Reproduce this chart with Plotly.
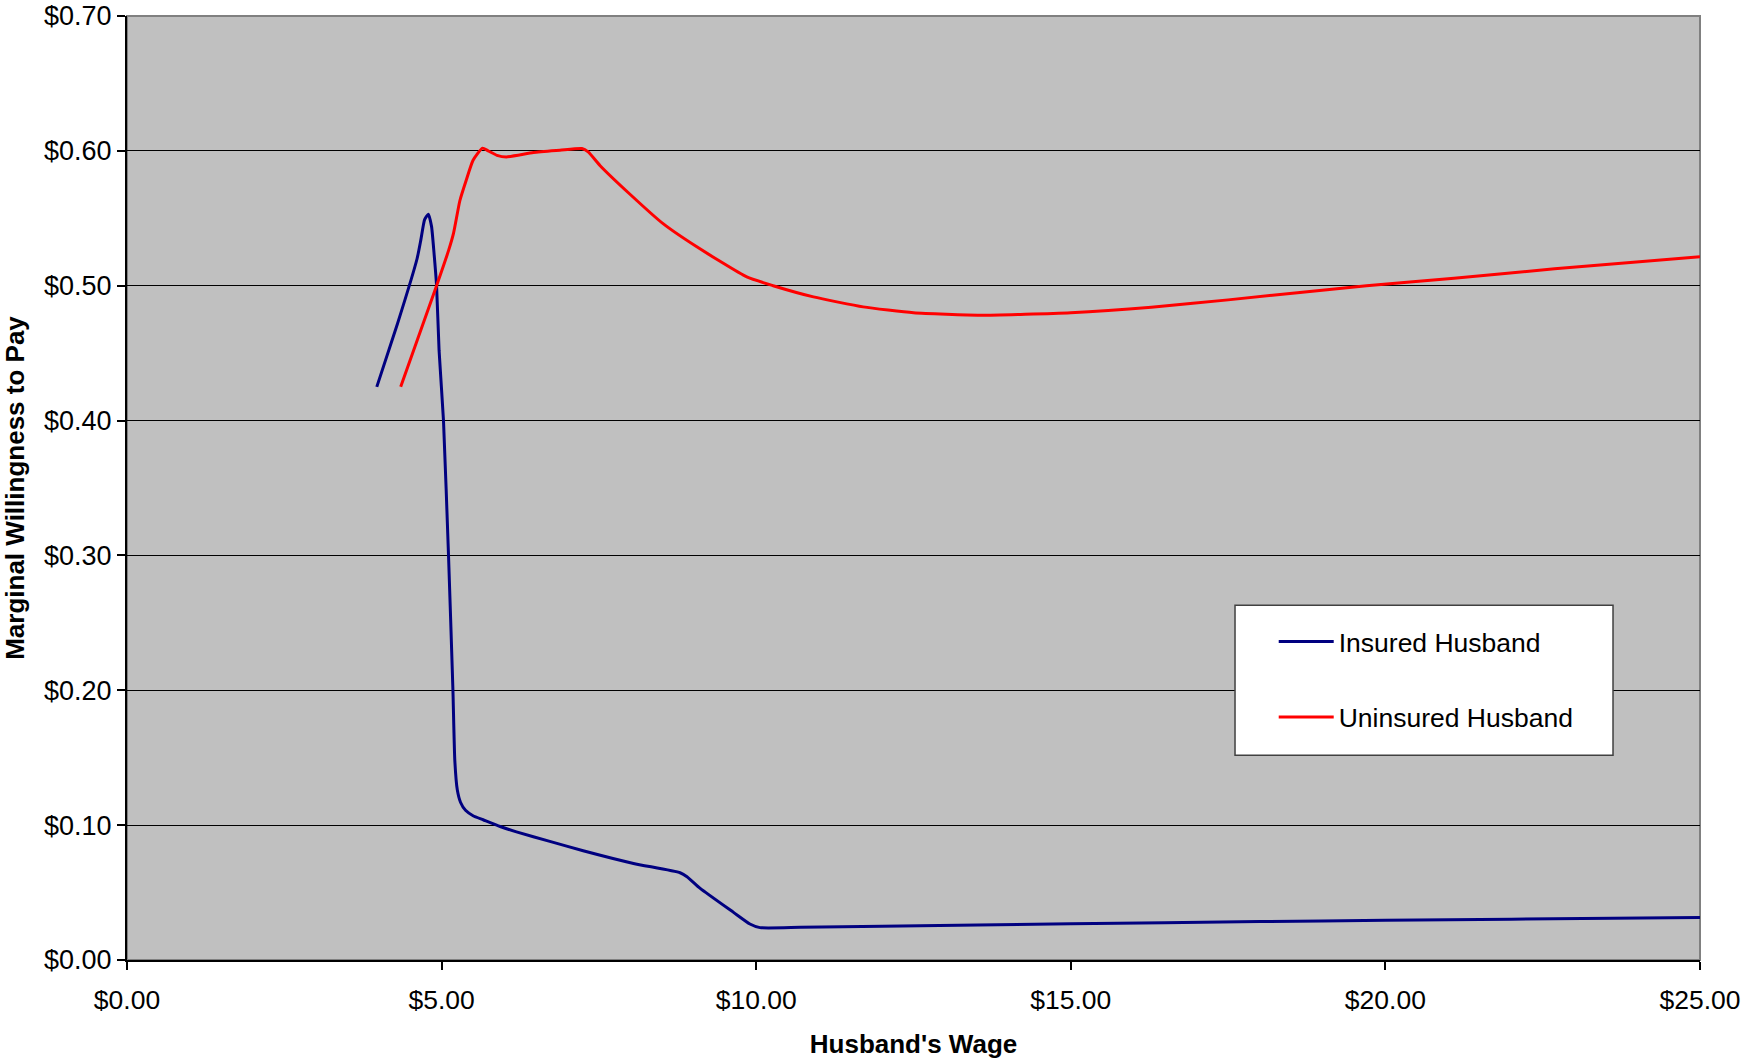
import plotly.graph_objects as go

# Husband's hourly wage ($) and marginal willingness to pay ($)
wage_insured = [3.97, 4.30, 4.61, 4.67, 4.73, 4.79, 4.84, 4.88, 4.92, 4.96, 5.03,
                5.11, 5.18, 5.21, 5.25, 5.30, 5.38, 5.50, 5.66, 5.93, 6.19, 6.72,
                7.25, 8.05, 8.79, 8.90, 9.11, 9.64, 9.90, 10.06, 10.70, 12.0,
                15.0, 18.0, 20.0, 22.0, 25.0]
mwtp_insured = [0.425, 0.472, 0.520, 0.534, 0.549, 0.553, 0.544, 0.524, 0.500,
                0.452, 0.400, 0.300, 0.200, 0.148, 0.126, 0.117, 0.111, 0.107,
                0.104, 0.099, 0.095, 0.088, 0.081, 0.0716, 0.0647, 0.0618,
                0.0531, 0.0353, 0.0267, 0.0240, 0.0242, 0.0250, 0.0268, 0.0285,
                0.0295, 0.0303, 0.0316]

wage_uninsured = [4.35, 4.92, 5.11, 5.19, 5.29, 5.39, 5.50, 5.65, 5.74, 5.88,
                  6.03, 6.46, 6.88, 7.23, 7.33, 7.52, 7.99, 8.52, 9.05, 9.85,
                  10.27, 10.91, 11.70, 12.50, 13.56, 15.0, 16.28, 17.5, 19.7,
                  21.09, 22.69, 25.0]
mwtp_uninsured = [0.425, 0.500, 0.526, 0.539, 0.563, 0.578, 0.593, 0.602, 0.600,
                  0.5967, 0.5955, 0.5987, 0.6004, 0.6017, 0.5992, 0.589, 0.568,
                  0.546, 0.529, 0.5065, 0.500, 0.4917, 0.4843, 0.4799, 0.4781,
                  0.4800, 0.4840, 0.4895, 0.5000, 0.5055, 0.5125, 0.5215]

x_ticks = [0, 5, 10, 15, 20, 25]
y_ticks = [0, 0.1, 0.2, 0.3, 0.4, 0.5, 0.6, 0.7]

FONT = "Liberation Sans, Arial, sans-serif"

fig = go.Figure()
fig.add_trace(go.Scatter(
    x=wage_insured, y=mwtp_insured, mode="lines", name="Insured Husband",
    legendgroup="a",
    line=dict(color="#000080", width=3, shape="spline", smoothing=0.5),
))
fig.add_trace(go.Scatter(
    x=wage_uninsured, y=mwtp_uninsured, mode="lines", name="Uninsured Husband",
    legendgroup="b",
    line=dict(color="#FF0000", width=3, shape="spline", smoothing=0.5),
))

# plot-area frame (grey on top/right) and the legend panel
fig.add_shape(type="rect", xref="paper", yref="paper", x0=0, x1=1, y0=0, y1=1,
              line=dict(color="#808080", width=2), layer="below")
fig.add_shape(type="rect", xref="paper", yref="paper",
              x0=0.7044, x1=0.9447, y0=0.217, y1=0.3759,
              line=dict(color="#404040", width=1.5), fillcolor="white",
              layer="above")

fig.update_layout(
    width=1741, height=1059,
    margin=dict(l=127, r=41, t=15.5, b=99),
    paper_bgcolor="white", plot_bgcolor="#C0C0C0",
    font=dict(family=FONT, size=26.5, color="black"),
    showlegend=True,
    legend=dict(
        x=0.729, y=0.3624, xanchor="left", yanchor="top",
        bgcolor="rgba(0,0,0,0)", borderwidth=0,
        font=dict(family=FONT, size=26.5, color="black"),
        itemwidth=55, tracegroupgap=38,
    ),
    xaxis=dict(
        range=[0, 25], tickvals=x_ticks, tickformat="$.2f",
        tickfont=dict(family=FONT, size=26.5),
        showgrid=False, zeroline=False,
        showline=True, linecolor="black", linewidth=2,
        ticks="outside", ticklen=8, tickcolor="black", tickwidth=1.5,
        ticklabelstandoff=7,
        title=dict(text="<b>Husband's Wage</b>", standoff=28,
                   font=dict(family=FONT, size=26)),
        automargin=False,
    ),
    yaxis=dict(
        range=[0, 0.7], tickvals=y_ticks, tickformat="$.2f",
        tickfont=dict(family=FONT, size=27),
        showgrid=True, gridcolor="black", gridwidth=1,
        zeroline=False,
        showline=True, linecolor="black", linewidth=2,
        ticks="outside", ticklen=8, tickcolor="black", tickwidth=1.5,
        title=dict(text="<b>Marginal Willingness to Pay</b>", standoff=16,
                   font=dict(family=FONT, size=26)),
        automargin=False,
    ),
)

fig.write_html("out.html")
